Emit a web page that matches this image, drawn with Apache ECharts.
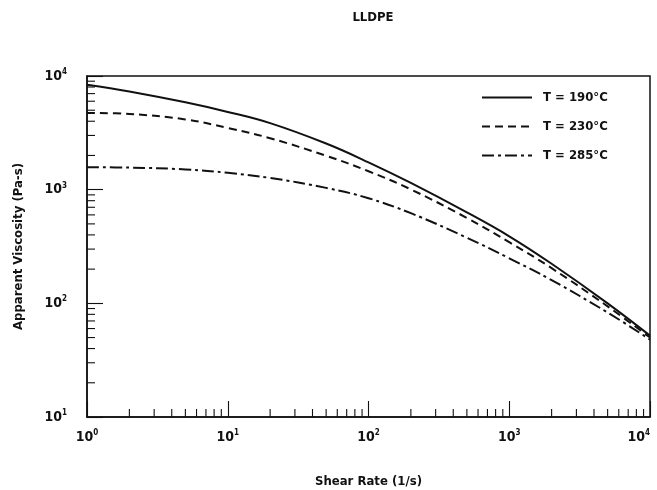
<!DOCTYPE html>
<html>
<head>
<meta charset="utf-8">
<script src="https://cdn.jsdelivr.net/npm/echarts@6/dist/echarts.min.js"></script>
<style>
html,body{margin:0;padding:0;background:#fff;}
#chart{width:657px;height:490px;}
</style>
</head>
<body>
<div id="chart"></div>
<script>
// Data
const shearRate = [1, 2, 5, 10, 20, 50, 100, 200, 500, 1000, 2000, 5000, 10000];
const visc190 = [8395, 7311, 5866, 4831, 3846, 2545, 1740, 1146, 631, 389, 223, 100, 52];
const visc230 = [4732, 4634, 4150, 3491, 2837, 1986, 1453, 1005, 564, 345, 204, 94, 50];
const visc285 = [1574, 1563, 1507, 1406, 1268, 1037, 841, 621, 378, 249, 160, 83, 48];
const seriesNames = ['T = 190°C', 'T = 230°C', 'T = 285°C'];
const xMinorTicks = [2,3,4,5,6,7,8,9,20,30,40,50,60,70,80,90,200,300,400,500,600,700,800,900,2000,3000,4000,5000,6000,7000,8000,9000];
const yMinorTicks = [20,30,40,50,60,70,80,90,200,300,400,500,600,700,800,900,2000,3000,4000,5000,6000,7000,8000,9000];
const supDigits = {0:'0',1:'1',2:'2',3:'3',4:'4'};

const FONT = "'Liberation Sans Narrow', 'DejaVu Sans Condensed', 'Liberation Sans', sans-serif";

function pairs(xs, ys) { return xs.map((x, i) => [x, ys[i]]); }
function powLabel(v) {
  const e = Math.round(Math.log10(v));
  return '{b|10}{s|' + supDigits[e] + '}';
}
const richLab = {
  b: { fontFamily: FONT, fontWeight: 'bold', fontSize: 14, color: '#111' },
  s: { fontFamily: FONT, fontWeight: 'bold', fontSize: 8, color: '#111', verticalAlign: 'top', padding: [0, 0, 8, 0] }
};

const chart = echarts.init(document.getElementById('chart'), null, { renderer: 'canvas' });

function tickSeries(data, isX) {
  return {
    type: 'custom',
    silent: true,
    data: data,
    z: 5,
    renderItem: function (params, api) {
      const p = api.coord([api.value(0), api.value(1)]);
      const end = isX ? [p[0], p[1] - 8] : [p[0] + 8, p[1]];
      return {
        type: 'line',
        shape: { x1: p[0], y1: p[1], x2: end[0], y2: end[1] },
        style: { stroke: '#111', lineWidth: 1.1 }
      };
    }
  };
}

function lineSeries(name, ys, dash) {
  return {
    name: name, type: 'line', data: pairs(shearRate, ys),
    smooth: 0.4, showSymbol: false, symbol: 'none',
    lineStyle: { color: '#111', width: 2, type: dash },
    itemStyle: { color: '#111' }
  };
}

const option = {
  backgroundColor: '#fff',
  animation: false,
  title: {
    text: 'LLDPE',
    left: 368, top: 6, textAlign: 'center',
    textStyle: { fontFamily: FONT, fontWeight: 'bold', fontSize: 13, color: '#111' }
  },
  grid: {
    left: 87, right: 7, top: 76, bottom: 73,
    outerBoundsMode: 'none', containLabel: false,
    show: true, borderColor: '#111', borderWidth: 1.5, backgroundColor: 'transparent'
  },
  legend: {
    data: seriesNames,
    orient: 'vertical',
    left: 476, top: 86,
    itemWidth: 50, itemHeight: 14, itemGap: 16,
    itemStyle: { opacity: 0, borderWidth: 0 },
    textStyle: { fontFamily: FONT, fontWeight: 'bold', fontSize: 13, color: '#111', padding: [0, 0, 0, 6] }
  },
  xAxis: {
    type: 'log', min: 1, max: 10000,
    name: 'Shear Rate (1/s)', nameLocation: 'middle', nameGap: 58,
    nameTextStyle: { fontFamily: FONT, fontWeight: 'bold', fontSize: 13, color: '#111' },
    axisLine: { show: true, lineStyle: { color: '#111', width: 1.5 } },
    axisTick: { show: true, inside: true, length: 16, lineStyle: { color: '#111', width: 1.1 } },
    axisLabel: { margin: 12, formatter: powLabel, rich: richLab, alignMaxLabel: 'right', hideOverlap: false },
    splitLine: { show: false }
  },
  yAxis: {
    type: 'log', min: 10, max: 10000,
    name: 'Apparent Viscosity (Pa-s)', nameLocation: 'middle', nameGap: 62, nameRotate: 90,
    nameTextStyle: { fontFamily: FONT, fontWeight: 'bold', fontSize: 13, color: '#111' },
    axisLine: { show: true, lineStyle: { color: '#111', width: 1.5 } },
    axisTick: { show: true, inside: true, length: 16, lineStyle: { color: '#111', width: 1.1 } },
    axisLabel: { margin: 20, formatter: powLabel, rich: richLab },
    splitLine: { show: false }
  },
  series: [
    lineSeries(seriesNames[0], visc190, 'solid'),
    lineSeries(seriesNames[1], visc230, [8, 5]),
    lineSeries(seriesNames[2], visc285, [12, 4, 3, 4]),
    tickSeries(xMinorTicks.map(v => [v, 10]), true),
    tickSeries(yMinorTicks.map(v => [1, v]), false)
  ]
};
chart.setOption(option);
</script>
</body>
</html>
